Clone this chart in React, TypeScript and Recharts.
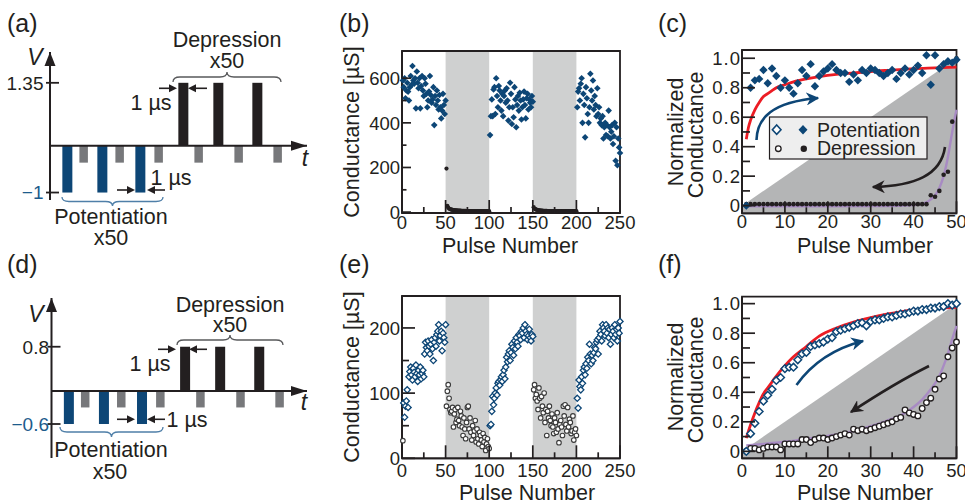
import React from 'react';
import {
  ComposedChart,
  Scatter,
  Line,
  Area,
  Bar,
  XAxis,
  YAxis,
  ReferenceArea,
  ReferenceLine,
  ReferenceDot,
} from 'recharts';

const FONT = '"Liberation Sans", Arial, Helvetica, sans-serif';
const INK = '#231f20';
const BLUE = '#0d4676';
const LABEL_BLUE = '#1d5b8c';
const BRACE_BLUE = '#4f7fa8';
const READ_GRAY = '#77787b';
const RED = '#ec1c24';
const PURPLE = '#a88bc3';
const SHADE = '#cfd0d0';
const WEDGE = '#b4b5b6';

// (a), (d) pulse trains: pulse centres in µs
const writeCenters = [1.7, 5.2, 9.0];
const readCenters = [3.33, 6.93, 10.83, 14.83, 18.83, 22.73];
const eraseCenters = [13.3, 16.8, 20.7];
// [depression, potentiation, read] amplitudes in V
const voltsA = [1.35, -1, -0.36];
const voltsD = [0.8, -0.6, -0.3];

// (b) conductance in µS, pulses 1..250
const bPot1 = [590, 560, 600, 510, 545, 580, 540, 500, 560, 610, 570, 655, 590, 575, 600, 465, 630, 580, 555, 600, 465, 565, 610, 545, 520, 600, 575, 530, 470, 500, 540, 610, 525, 490, 505, 560, 390, 520, 480, 545, 500, 460, 525, 470, 420, 455, 530, 480, 440, 500];
const bDep1 = [195, 28, 20, 16, 14, 12, 11, 10, 9, 9, 8, 8, 8, 7, 7, 7, 7, 6, 6, 6, 6, 6, 6, 5, 5, 5, 5, 5, 5, 5, 5, 5, 5, 5, 4, 4, 4, 4, 4, 4, 4, 4, 4, 4, 4, 4, 4, 4, 4, 4];
const bPot2 = [345, 430, 505, 430, 550, 560, 440, 600, 520, 470, 565, 545, 500, 455, 530, 430, 520, 545, 490, 555, 500, 410, 470, 580, 530, 395, 470, 425, 560, 505, 380, 480, 520, 455, 535, 500, 415, 470, 505, 540, 480, 420, 510, 530, 460, 505, 490, 470, 520, 495];
const bDep2 = [22, 16, 13, 11, 10, 9, 8, 8, 7, 7, 7, 6, 6, 6, 6, 6, 5, 5, 5, 5, 5, 5, 5, 5, 5, 4, 4, 4, 4, 4, 4, 4, 4, 4, 4, 4, 4, 4, 4, 4, 4, 4, 4, 4, 4, 4, 4, 4, 4, 4];
const bPot3 = [470, 540, 555, 500, 575, 600, 400, 530, 480, 335, 560, 510, 440, 400, 470, 620, 545, 500, 590, 460, 520, 480, 430, 555, 440, 470, 400, 420, 390, 430, 330, 380, 400, 345, 390, 340, 455, 380, 330, 360, 390, 305, 340, 400, 230, 380, 210, 330, 290, 265];

// (e) conductance in µS
const eStart = [27];
const ePot1 = [85, 63, 80, 88, 105, 78, 125, 133, 140, 128, 120, 138, 132, 125, 143, 130, 118, 135, 128, 140, 122, 130, 135, 125, 160, 178, 170, 165, 180, 172, 160, 175, 182, 168, 150, 178, 185, 172, 190, 195, 205, 180, 188, 195, 165, 192, 185, 178, 205];
const eDep1 = [80, 103, 113, 92, 75, 70, 72, 78, 48, 68, 75, 55, 60, 78, 58, 50, 72, 65, 48, 35, 62, 45, 30, 55, 78, 80, 45, 62, 40, 28, 50, 35, 42, 58, 25, 45, 30, 22, 40, 35, 28, 18, 38, 25, 32, 12, 22, 30, 18, 15];
const ePot2 = [50, 52, 72, 95, 82, 92, 100, 108, 97, 115, 118, 112, 120, 125, 118, 128, 135, 122, 140, 155, 148, 160, 165, 150, 162, 175, 170, 158, 180, 168, 185, 178, 172, 190, 188, 182, 195, 192, 200, 185, 205, 195, 190, 182, 188, 198, 185, 180, 190, 187];
const eDep2 = [105, 113, 92, 98, 88, 75, 108, 92, 62, 95, 80, 70, 100, 55, 75, 35, 72, 62, 80, 58, 50, 68, 48, 38, 62, 55, 40, 70, 45, 24, 52, 58, 48, 35, 80, 65, 82, 52, 42, 78, 48, 60, 55, 38, 42, 65, 28, 40, 45, 35];
const ePot3 = [92, 77, 120, 110, 105, 125, 115, 135, 140, 128, 145, 138, 155, 150, 175, 160, 145, 158, 150, 162, 170, 168, 178, 182, 160, 185, 195, 190, 180, 205, 200, 195, 188, 205, 192, 200, 185, 198, 175, 190, 200, 195, 185, 205, 190, 198, 180, 200, 192, 210];

const depressionBlocks = [[50, 100], [150, 200]];

// (c) normalized, pulses 1..50
const potC = [0, 0.8, 0.85, 0.86, 0.92, 0.83, 0.93, 0.88, 0.8, 0.85, 0.8, 0.76, 0.83, 0.92, 0.88, 0.96, 0.81, 0.88, 0.91, 0.93, 0.96, 0.92, 0.9, 0.9, 0.84, 0.89, 0.85, 0.92, 0.9, 0.93, 0.92, 0.9, 0.88, 0.9, 0.92, 0.86, 0.9, 0.93, 0.89, 0.92, 0.95, 0.9, 1.02, 0.82, 1.02, 0.93, 0.96, 0.98, 0.97, 0.99];
const depC = [0.01, 0.01, 0.01, 0.01, 0.01, 0.01, 0.01, 0.01, 0.01, 0.01, 0.01, 0.01, 0.01, 0.01, 0.01, 0.01, 0.01, 0.01, 0.01, 0.01, 0.01, 0.01, 0.01, 0.01, 0.01, 0.01, 0.01, 0.01, 0.01, 0.01, 0.01, 0.01, 0.01, 0.01, 0.01, 0.01, 0.01, 0.01, 0.01, 0.01, 0.01, 0.01, 0.01, 0.07, 0.06, 0.1, 0.21, 0.23, 0.57, 1.0];
const fitPotCx = [1, 1.5, 2, 3, 4, 5, 6, 7, 8, 10, 12, 15, 18, 22, 26, 30, 35, 40, 45, 50];
const fitPotCy = [0.45, 0.53, 0.58, 0.65, 0.7, 0.74, 0.76, 0.78, 0.8, 0.82, 0.84, 0.86, 0.875, 0.89, 0.9, 0.91, 0.92, 0.93, 0.935, 0.94];
const fitDepCx = [1, 20, 35, 40, 42, 43, 44, 45, 46, 47, 48, 49, 49.5, 50];
const fitDepCy = [-0.005, -0.005, -0.002, 0.004, 0.012, 0.022, 0.042, 0.07, 0.12, 0.2, 0.33, 0.5, 0.58, 0.65];

// (f) normalized, pulses 1..50
const potF = [0, 0.12, 0.19, 0.27, 0.34, 0.38, 0.42, 0.48, 0.5, 0.56, 0.57, 0.57, 0.62, 0.66, 0.67, 0.71, 0.72, 0.73, 0.74, 0.76, 0.77, 0.81, 0.82, 0.83, 0.84, 0.85, 0.865, 0.87, 0.85, 0.88, 0.89, 0.89, 0.9, 0.91, 0.91, 0.92, 0.93, 0.93, 0.94, 0.95, 0.95, 0.96, 0.96, 0.97, 0.97, 0.98, 0.98, 1.0, 0.99, 1.0];
const depF = [0, 0.02, 0.02, 0.01, 0.02, 0.03, 0.03, 0.03, 0.01, 0.05, 0.05, 0.05, 0.05, 0.08, 0.08, 0.06, 0.08, 0.09, 0.09, 0.08, 0.09, 0.1, 0.11, 0.12, 0.11, 0.15, 0.14, 0.15, 0.14, 0.15, 0.16, 0.17, 0.18, 0.19, 0.2, 0.22, 0.23, 0.28, 0.26, 0.25, 0.24, 0.29, 0.33, 0.36, 0.42, 0.49, 0.51, 0.64, 0.7, 0.74];
const fitPotFx = [1, 2, 3, 4, 5, 6, 7, 8, 10, 12, 15, 18, 22, 26, 30, 34, 38, 42, 46, 50];
const fitPotFy = [0.09, 0.18, 0.26, 0.33, 0.39, 0.43, 0.47, 0.51, 0.58, 0.64, 0.71, 0.78, 0.835, 0.875, 0.905, 0.93, 0.95, 0.962, 0.97, 0.975];
const fitDepFx = [1, 5, 10, 15, 20, 25, 30, 34, 38, 40, 42, 44, 46, 47, 48, 49, 50];
const fitDepFy = [0.04, 0.05, 0.065, 0.085, 0.105, 0.13, 0.17, 0.21, 0.26, 0.3, 0.35, 0.42, 0.51, 0.58, 0.66, 0.76, 0.85];

// linear reference wedge
const linearRef = [{ x: 0, y: 0 }, { x: 50, y: 1 }];

const convTicksX = [0, 25, 50, 75, 100, 125, 150, 175, 200, 225, 250];
const bTicksY = [0, 100, 200, 300, 400, 500, 600];
const eTicksY = [0, 50, 100, 150, 200];
const normTicksX = [0, 5, 10, 15, 20, 25, 30, 35, 40, 45, 50];
const normTicksY = [0, 0.1, 0.2, 0.3, 0.4, 0.5, 0.6, 0.7, 0.8, 0.9, 1.0];

const pts = (vals: number[], first: number) => vals.map((y, i) => ({ x: first + i, y }));
const zip = (xs: number[], ys: number[]) => xs.map((x, i) => ({ x, y: ys[i] }));

// ---- marker shapes
const diamond = (r: number, fill: string, stroke: string, sw: number) => (p: any) => (
  <path
    d={`M${p.cx},${p.cy - r}L${p.cx + r},${p.cy}L${p.cx},${p.cy + r}L${p.cx - r},${p.cy}Z`}
    fill={fill}
    stroke={stroke}
    strokeWidth={sw}
  />
);
const dot = (r: number, fill: string, stroke: string, sw: number) => (p: any) => (
  <circle cx={p.cx} cy={p.cy} r={r} fill={fill} stroke={stroke} strokeWidth={sw} />
);

// ---- inward ticks (mark drawn by the tick itself)
function bottomTick(isMajor: (v: number) => boolean, major: number, minor: number, gap: number) {
  return (p: any) => {
    const v = p.payload.value;
    const big = isMajor(v);
    return (
      <g>
        <path d={`M${p.x},${p.y}V${p.y - (big ? major : minor)}`} stroke={INK} strokeWidth={1.7} />
        {big && (
          <text x={p.x} y={p.y + gap} textAnchor="middle" fontSize={18.5} fontFamily={FONT} fill={INK}>
            {v}
          </text>
        )}
      </g>
    );
  };
}

function leftTick(isMajor: (v: number) => boolean, major: number, minor: number, fmt: (v: number) => string, spacing = 0) {
  return (p: any) => {
    const v = p.payload.value;
    const big = isMajor(v);
    return (
      <g>
        <path d={`M${p.x},${p.y}H${p.x + (big ? major : minor)}`} stroke={INK} strokeWidth={1.7} />
        {big && (
          <text
            x={p.x - 2 + spacing}
            y={p.y}
            dy="0.36em"
            textAnchor="end"
            fontSize={18.5}
            letterSpacing={spacing}
            fontFamily={FONT}
            fill={INK}
          >
            {fmt(v)}
          </text>
        )}
      </g>
    );
  };
}

// ---- (a)/(d)
function PulseScheme({ volts, yDomain, xMax, width, height, margin, axisWidth, labelGap }: any) {
  const [vErase, vWrite, vRead] = volts;
  const pulses = [
    ...writeCenters.map((t) => ({ t, v: vWrite, kind: 'write' })),
    ...readCenters.map((t) => ({ t, v: vRead, kind: 'read' })),
    ...eraseCenters.map((t) => ({ t, v: vErase, kind: 'erase' })),
  ].sort((a, b) => a.t - b.t);
  const colour: Record<string, string> = { write: BLUE, read: READ_GRAY, erase: INK };

  const pulseShape = (p: any) => {
    const w = p.payload.kind === 'read' ? p.width * 0.85 : p.width;
    const y0 = Math.min(p.y, p.y + p.height);
    return <rect x={p.x + (p.width - w) / 2} y={y0} width={w} height={Math.abs(p.height)} fill={colour[p.payload.kind]} />;
  };
  const yTick = (p: any) => {
    const v = p.payload.value;
    return (
      <g>
        <path d={`M${p.x - 4},${p.y}H${p.x + 9}`} stroke={INK} strokeWidth={1.8} />
        <text
          x={p.x - labelGap}
          y={p.y}
          dy="0.36em"
          textAnchor="end"
          fontSize={19}
          fontFamily={FONT}
          fill={v < 0 ? LABEL_BLUE : INK}
        >
          {v < 0 ? `\u2212${Math.abs(v)}` : v}
        </text>
      </g>
    );
  };
  const arrowRight = (p: any) => (
    <path d={`M${p.cx},${p.cy}L${p.cx - 16},${p.cy - 5}L${p.cx - 16},${p.cy + 5}Z`} fill={INK} />
  );
  const arrowUp = (p: any) => (
    <path d={`M${p.cx},${p.cy}L${p.cx - 5.5},${p.cy + 14}L${p.cx + 5.5},${p.cy + 14}Z`} fill={INK} />
  );
  return (
    <ComposedChart width={width} height={height} margin={margin} data={pulses}>
      <XAxis type="number" dataKey="t" domain={[0, xMax]} hide />
      <YAxis
        type="number"
        domain={yDomain}
        ticks={[vErase, vWrite]}
        interval={0}
        width={axisWidth}
        tickSize={0}
        tickMargin={0}
        tickLine={false}
        tick={yTick}
        axisLine={{ stroke: INK, strokeWidth: 2 }}
      />
      <Bar dataKey="v" barSize={10} shape={pulseShape} isAnimationActive={false} />
      <ReferenceLine y={0} stroke={INK} strokeWidth={2} />
      <ReferenceDot x={xMax} y={0} ifOverflow="visible" shape={arrowRight} />
      <ReferenceDot x={0} y={yDomain[1]} ifOverflow="visible" shape={arrowUp} />
    </ComposedChart>
  );
}

// ---- (b)/(e)
function ConductancePlot({ height, margin, xAxisHeight, yDomain, yTicks, yMajor, yLong, yShort, labelGap, series }: any) {
  return (
    <ComposedChart width={320} height={height} margin={margin} data={series[series.length - 1].data}>
      {depressionBlocks.map(([a, b]) => (
        <ReferenceArea key={a} x1={a} x2={b} fill={SHADE} fillOpacity={1} stroke="none" />
      ))}
      <XAxis
        type="number"
        dataKey="x"
        domain={[0, 250]}
        ticks={convTicksX}
        interval={0}
        height={xAxisHeight}
        tickSize={0}
        tickMargin={0}
        tickLine={false}
        tick={bottomTick((v) => v % 50 === 0, 13, 6, labelGap)}
        axisLine={{ stroke: INK, strokeWidth: 1.8 }}
      />
      <YAxis
        type="number"
        dataKey="y"
        domain={yDomain}
        ticks={yTicks}
        interval={0}
        width={82}
        tickSize={0}
        tickMargin={0}
        tickLine={false}
        tick={leftTick(yMajor, yLong, yShort, (v) => String(v))}
        axisLine={{ stroke: INK, strokeWidth: 1.8 }}
      />
      {series.map((s: any, i: number) => (
        <Scatter key={i} data={s.data} shape={s.shape} isAnimationActive={false} />
      ))}
      <ReferenceArea
        x1={0}
        x2={250}
        y1={yDomain[0]}
        y2={yDomain[1]}
        fill="none"
        fillOpacity={0}
        stroke={INK}
        strokeWidth={1.8}
        ifOverflow="visible"
      />
    </ComposedChart>
  );
}

// ---- (c)/(f)
function NormalizedPlot({ height, margin, xAxisHeight, yDomain, labelGap, pot, dep, fitPot, fitDep, potShape, depShape }: any) {
  return (
    <ComposedChart width={325} height={height} margin={margin} data={pot}>
      <Area
        data={linearRef}
        dataKey="y"
        type="linear"
        baseValue="dataMin"
        fill={WEDGE}
        fillOpacity={1}
        stroke="none"
        isAnimationActive={false}
      />
      <XAxis
        type="number"
        dataKey="x"
        domain={[0, 50]}
        ticks={normTicksX}
        interval={0}
        height={xAxisHeight}
        tickSize={0}
        tickMargin={0}
        tickLine={false}
        tick={bottomTick((v) => v % 10 === 0, 12, 6, labelGap)}
        axisLine={{ stroke: INK, strokeWidth: 1.8 }}
      />
      <YAxis
        type="number"
        dataKey="y"
        domain={yDomain}
        ticks={normTicksY}
        interval={0}
        width={102}
        tickSize={0}
        tickMargin={0}
        tickLine={false}
        tick={leftTick((v) => Math.round(v * 10) % 2 === 0, 13, 8, (v) => (v === 0 ? '0' : v.toFixed(1)), 1)}
        axisLine={{ stroke: INK, strokeWidth: 1.8 }}
      />
      <Scatter data={dep} shape={depShape} isAnimationActive={false} />
      <Line data={fitDep} dataKey="y" type="monotone" stroke={PURPLE} strokeWidth={2.4} dot={false} isAnimationActive={false} />
      <Scatter data={pot} shape={potShape} isAnimationActive={false} />
      <Line data={fitPot} dataKey="y" type="monotone" stroke={RED} strokeWidth={2.8} dot={false} isAnimationActive={false} />
      <ReferenceArea
        x1={0}
        x2={50}
        y1={yDomain[0]}
        y2={yDomain[1]}
        fill="none"
        fillOpacity={0}
        stroke={INK}
        strokeWidth={1.8}
        ifOverflow="visible"
      />
    </ComposedChart>
  );
}

// ---- annotations
const brace = (x1: number, x2: number, yEnd: number, yTip: number) => {
  const xm = (x1 + x2) / 2;
  const ym = (yEnd + yTip) / 2;
  const q = 7;
  return `M${x1},${yEnd} Q${x1},${ym} ${x1 + q},${ym} L${xm - q},${ym} Q${xm},${ym} ${xm},${yTip} Q${xm},${ym} ${xm + q},${ym} L${x2 - q},${ym} Q${x2},${ym} ${x2},${yEnd}`;
};

function HArrow({ from, to, y }: { from: number; to: number; y: number }) {
  const dir = Math.sign(to - from);
  const head = 8;
  return (
    <g>
      <line x1={from} x2={to - dir * head} y1={y} y2={y} stroke={INK} strokeWidth={1.6} />
      <path d={`M${to},${y}L${to - dir * head},${y - 4}L${to - dir * head},${y + 4}Z`} fill={INK} />
    </g>
  );
}

function Overlay() {
  const t = { fontFamily: FONT, fill: INK } as const;
  return (
    <svg width={965} height={504} style={{ position: 'absolute', left: 0, top: 0, pointerEvents: 'none' }}>
      <defs>
        <marker id="hb" viewBox="0 0 10 10" refX="9" refY="5" markerWidth="5" markerHeight="5" orient="auto">
          <path d="M0,0L10,5L0,10L3,5Z" fill={BLUE} />
        </marker>
        <marker id="hk" viewBox="0 0 10 10" refX="9" refY="5" markerWidth="5" markerHeight="5" orient="auto">
          <path d="M0,0L10,5L0,10L3,5Z" fill={INK} />
        </marker>
      </defs>

      {/* panel letters */}
      <g {...t} fontSize={25}>
        <text x={7} y={32}>(a)</text>
        <text x={339} y={32}>(b)</text>
        <text x={658} y={32}>(c)</text>
        <text x={7} y={273}>(d)</text>
        <text x={339} y={273}>(e)</text>
        <text x={658} y={273}>(f)</text>
      </g>

      {/* (a) */}
      <g {...t} fontSize={21.5} textAnchor="middle">
        <text x={35} y={65} fontStyle="italic" fontSize={23}>V</text>
        <text x={305} y={166} fontStyle="italic" fontSize={23}>t</text>
        <text x={227} y={47}>Depression</text>
        <text x={227} y={68}>x50</text>
        <text x={151} y={109.5}>1 µs</text>
        <text x={171} y={184.5}>1 µs</text>
        <text x={111} y={224}>Potentiation</text>
        <text x={111} y={245}>x50</text>
      </g>
      <path d={brace(173, 281, 82, 72)} fill="none" stroke="#58595b" strokeWidth={1.3} />
      <path d={brace(62, 163, 197, 206)} fill="none" stroke={BRACE_BLUE} strokeWidth={1.3} />
      <HArrow from={159} to={177} y={88.3} />
      <HArrow from={207} to={188} y={88.3} />
      <HArrow from={117} to={135} y={190} />
      <HArrow from={165} to={147} y={190} />

      {/* (d) */}
      <g {...t} fontSize={21.5} textAnchor="middle">
        <text x={36} y={322} fontStyle="italic" fontSize={23}>V</text>
        <text x={304} y={410} fontStyle="italic" fontSize={23}>t</text>
        <text x={230} y={312}>Depression</text>
        <text x={230} y={332}>x50</text>
        <text x={150} y={371}>1 µs</text>
        <text x={187} y={426.5}>1 µs</text>
        <text x={111} y={456.5}>Potentiation</text>
        <text x={110} y={479}>x50</text>
      </g>
      <path d={brace(177, 283, 345, 335)} fill="none" stroke="#58595b" strokeWidth={1.3} />
      <path d={brace(60, 163, 427, 437)} fill="none" stroke={BRACE_BLUE} strokeWidth={1.3} />
      <HArrow from={158} to={176} y={349.3} />
      <HArrow from={207} to={189} y={349.3} />
      <HArrow from={117} to={135} y={419.3} />
      <HArrow from={165} to={147} y={419.3} />

      {/* axis titles */}
      <g {...t} fontSize={21.5} textAnchor="middle">
        <text transform="translate(359,132) rotate(-90)">Conductance [µS]</text>
        <text transform="translate(359,377) rotate(-90)">Conductance [µS]</text>
        <text transform="translate(683,132) rotate(-90)">Normalized</text>
        <text transform="translate(703,135) rotate(-90)">Conductance</text>
        <text transform="translate(683,377) rotate(-90)">Normalized</text>
        <text transform="translate(703,380) rotate(-90)">Conductance</text>
        <text x={510} y={253}>Pulse Number</text>
        <text x={865} y={253}>Pulse Number</text>
        <text x={527} y={500}>Pulse Number</text>
        <text x={865} y={500}>Pulse Number</text>
      </g>

      {/* (c) legend */}
      <rect x={769.5} y={117} width={157.5} height={42} fill="#eeeeee" stroke={INK} strokeWidth={1.2} />
      <path d="M776.7,125 L781,129.7 L776.7,134.4 L772.4,129.7 Z" fill="#fff" stroke={BLUE} strokeWidth={1.6} />
      <path d="M803,125 L807.5,129.7 L803,134.4 L798.5,129.7 Z" fill={BLUE} />
      <circle cx={778.3} cy={148.7} r={2.8} fill="#fff" stroke={INK} strokeWidth={1.3} />
      <circle cx={803.8} cy={148.7} r={3.2} fill={INK} />
      <g {...t} fontSize={19.5}>
        <text x={817} y={136.5}>Potentiation</text>
        <text x={817} y={155}>Depression</text>
      </g>

      {/* (c) direction arrows */}
      <path d="M756.5,140 C757,118 772,102 818,98" fill="none" stroke={BLUE} strokeWidth={2.6} markerEnd="url(#hb)" />
      <path d="M945,147 C941,175 915,186 873,187" fill="none" stroke={INK} strokeWidth={2.6} markerEnd="url(#hk)" />

      {/* (f) direction arrows */}
      <path d="M796.5,385 Q820,352 863,341" fill="none" stroke={BLUE} strokeWidth={2.6} markerEnd="url(#hb)" />
      <path d="M929,366 Q895,383 851,412" fill="none" stroke={INK} strokeWidth={2.6} markerEnd="url(#hk)" />
    </svg>
  );
}

function Box({ left, top, children }: any) {
  return <div style={{ position: 'absolute', left, top }}>{children}</div>;
}

export default function App() {
  return (
    <div
      style={{
        position: 'absolute',
        left: 0,
        top: 0,
        width: 965,
        height: 504,
        background: '#fff',
        overflow: 'hidden',
        fontFamily: FONT,
      }}
    >
      <Box left={0} top={0}>
        <PulseScheme
          volts={voltsA}
          yDomain={[-1.16, 2.01]}
          xMax={25.7}
          width={320}
          height={250}
          margin={{ top: 52, right: 13, bottom: 50, left: 0 }}
          axisWidth={50}
          labelGap={6.5}
        />
      </Box>
      <Box left={0} top={250}>
        <PulseScheme
          volts={voltsD}
          yDomain={[-1.216, 1.683]}
          xMax={25.5}
          width={320}
          height={254}
          margin={{ top: 48, right: 13, bottom: 46, left: 0 }}
          axisWidth={51.5}
          labelGap={2.5}
        />
      </Box>

      <Box left={320} top={0}>
        <ConductancePlot
          height={250}
          margin={{ top: 51, right: 20, bottom: 0, left: 0 }}
          xAxisHeight={37}
          yDomain={[-4, 722]}
          yTicks={bTicksY}
          yMajor={(v: number) => v % 200 === 0}
          yLong={9}
          yShort={4.5}
          labelGap={16}
          series={[
            { data: pts(bDep1, 51), shape: dot(2.1, INK, 'none', 0) },
            { data: pts(bDep2, 151), shape: dot(2.1, INK, 'none', 0) },
            { data: pts(bPot1, 1), shape: diamond(3.3, BLUE, 'none', 0) },
            { data: pts(bPot2, 101), shape: diamond(3.3, BLUE, 'none', 0) },
            { data: pts(bPot3, 201), shape: diamond(3.3, BLUE, 'none', 0) },
          ]}
        />
      </Box>
      <Box left={320} top={250}>
        <ConductancePlot
          height={254}
          margin={{ top: 46, right: 20, bottom: 0, left: 0 }}
          xAxisHeight={45.7}
          yDomain={[0, 249]}
          yTicks={eTicksY}
          yMajor={(v: number) => v % 100 === 0}
          yLong={13}
          yShort={7}
          labelGap={19}
          series={[
            { data: pts(eStart, 1), shape: dot(2.3, '#fff', '#3a3a3a', 1.1) },
            { data: pts(eDep1, 51), shape: dot(2.3, '#fff', '#3a3a3a', 1.1) },
            { data: pts(eDep2, 151), shape: dot(2.3, '#fff', '#3a3a3a', 1.1) },
            { data: pts(ePot1, 2), shape: diamond(3.1, '#fff', BLUE, 1.3) },
            { data: pts(ePot2, 101), shape: diamond(3.1, '#fff', BLUE, 1.3) },
            { data: pts(ePot3, 201), shape: diamond(3.1, '#fff', BLUE, 1.3) },
          ]}
        />
      </Box>

      <Box left={640} top={0}>
        <NormalizedPlot
          height={250}
          margin={{ top: 50, right: 8.5, bottom: 0, left: 0 }}
          xAxisHeight={36.7}
          yDomain={[-0.052, 1.056]}
          labelGap={15}
          pot={pts(potC, 1)}
          dep={pts(depC, 1)}
          fitPot={zip(fitPotCx, fitPotCy)}
          fitDep={zip(fitDepCx, fitDepCy)}
          potShape={diamond(4.2, BLUE, 'none', 0)}
          depShape={dot(2.3, INK, 'none', 0)}
        />
      </Box>
      <Box left={640} top={250}>
        <NormalizedPlot
          height={254}
          margin={{ top: 46.7, right: 8.5, bottom: 0, left: 0 }}
          xAxisHeight={45.7}
          yDomain={[-0.047, 1.047]}
          labelGap={18.4}
          pot={pts(potF, 1)}
          dep={pts(depF, 1)}
          fitPot={zip(fitPotFx, fitPotFy)}
          fitDep={zip(fitDepFx, fitDepFy)}
          potShape={diamond(3.8, '#fff', BLUE, 1.5)}
          depShape={dot(2.8, '#fff', INK, 1.3)}
        />
      </Box>

      <Overlay />
    </div>
  );
}
